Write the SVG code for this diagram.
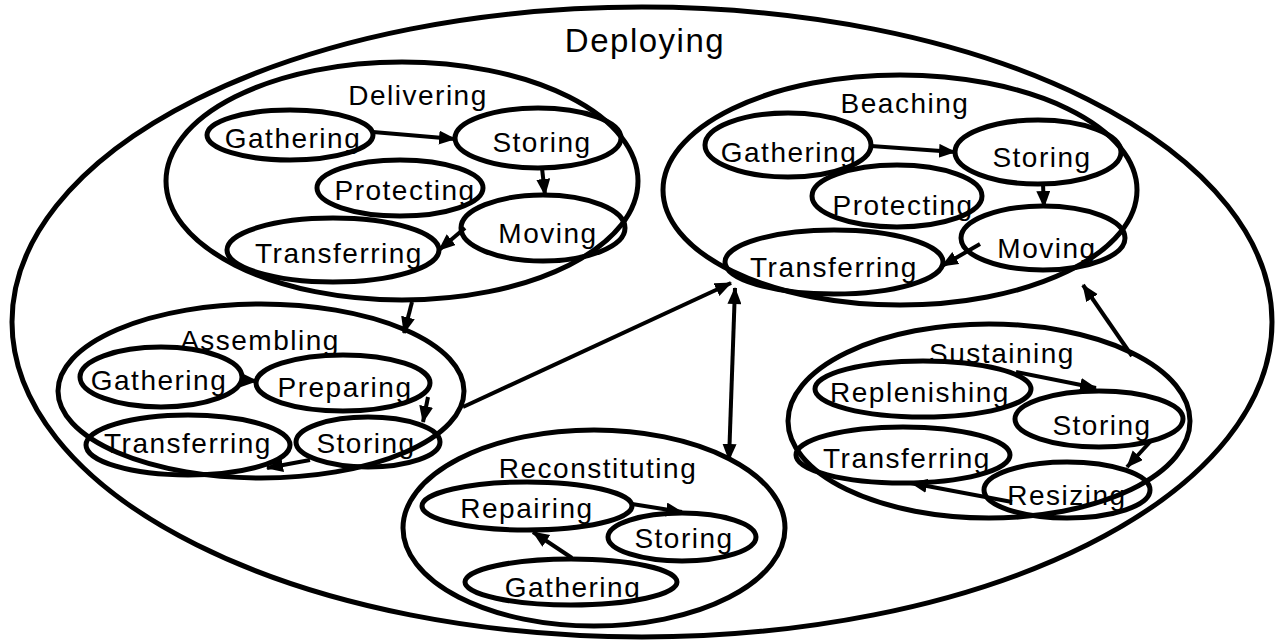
<svg xmlns="http://www.w3.org/2000/svg" width="1276" height="642" viewBox="0 0 1276 642">
<style>
.e{fill:none;stroke:#000;stroke-width:5}
.g{fill:none;stroke:#000;stroke-width:5}
.t{font-family:"Liberation Sans",Arial,sans-serif;font-size:28px;letter-spacing:1.5px;text-anchor:middle;fill:#000}
.h{font-family:"Liberation Sans",Arial,sans-serif;font-size:33px;letter-spacing:1.5px;text-anchor:middle;fill:#000}
.c{fill:none;stroke:#000;stroke-width:4}
</style>
<defs>
<marker id="ah" markerUnits="userSpaceOnUse" markerWidth="18" markerHeight="16" refX="16" refY="7" orient="auto">
<path d="M0,0 L17,7 L0,14 Z" fill="#000"/>
</marker>
<marker id="as" markerUnits="userSpaceOnUse" markerWidth="18" markerHeight="16" refX="1" refY="7" orient="auto">
<path d="M17,0 L0,7 L17,14 Z" fill="#000"/>
</marker>
</defs>
<rect width="1276" height="642" fill="#fff"/>
<g id="deploying">
<ellipse class="g" cx="642" cy="322" rx="630" ry="315"/>
<text class="h" x="645" y="52">Deploying</text>
</g>
<g id="delivering">
<ellipse class="g" cx="402" cy="181" rx="236" ry="119"/>
<text class="t" x="418" y="105">Delivering</text>
<g id="del-gathering"><ellipse class="e" cx="290" cy="135" rx="83" ry="25"/><text class="t" x="293" y="148">Gathering</text></g>
<g id="del-storing"><ellipse class="e" cx="538" cy="138" rx="83" ry="30"/><text class="t" x="542" y="152">Storing</text></g>
<g id="del-protecting"><ellipse class="e" cx="400" cy="188" rx="83" ry="28"/><text class="t" x="405" y="200">Protecting</text></g>
<g id="del-moving"><ellipse class="e" cx="543" cy="228" rx="82" ry="33"/><text class="t" x="548" y="243">Moving</text></g>
<g id="del-transferring"><ellipse class="e" cx="333" cy="250" rx="106" ry="32"/><text class="t" x="339" y="263">Transferring</text></g>
</g>
<g id="beaching">
<ellipse class="g" cx="900" cy="190" rx="237" ry="115"/>
<text class="t" x="905" y="113">Beaching</text>
<g id="bea-gathering"><ellipse class="e" cx="788" cy="145" rx="83" ry="32"/><text class="t" x="789" y="162">Gathering</text></g>
<g id="bea-storing"><ellipse class="e" cx="1038" cy="152" rx="83" ry="32"/><text class="t" x="1042" y="167">Storing</text></g>
<g id="bea-protecting"><ellipse class="e" cx="897" cy="196" rx="85" ry="31"/><text class="t" x="903" y="215">Protecting</text></g>
<g id="bea-moving"><ellipse class="e" cx="1043" cy="238" rx="82" ry="32"/><text class="t" x="1047" y="258">Moving</text></g>
<g id="bea-transferring"><ellipse class="e" cx="834" cy="262" rx="109" ry="32"/><text class="t" x="834" y="277">Transferring</text></g>
</g>
<g id="assembling">
<ellipse class="g" cx="261" cy="391" rx="203" ry="87"/>
<text class="t" x="260" y="350">Assembling</text>
<g id="asm-gathering"><ellipse class="e" cx="161" cy="377" rx="81" ry="30"/><text class="t" x="159" y="390">Gathering</text></g>
<g id="asm-preparing"><ellipse class="e" cx="343" cy="383" rx="87" ry="28"/><text class="t" x="345" y="397">Preparing</text></g>
<g id="asm-transferring"><ellipse class="e" cx="188" cy="445" rx="102" ry="30"/><text class="t" x="188" y="453">Transferring</text></g>
<g id="asm-storing"><ellipse class="e" cx="368" cy="442" rx="72" ry="25"/><text class="t" x="366" y="453">Storing</text></g>
</g>
<g id="reconstituting">
<ellipse class="g" cx="594" cy="528" rx="191" ry="98"/>
<text class="t" x="598" y="478">Reconstituting</text>
<g id="rec-repairing"><ellipse class="e" cx="527" cy="506" rx="105" ry="24"/><text class="t" x="527" y="518">Repairing</text></g>
<g id="rec-storing"><ellipse class="e" cx="682" cy="537" rx="74" ry="24"/><text class="t" x="684" y="548">Storing</text></g>
<g id="rec-gathering"><ellipse class="e" cx="571" cy="582" rx="106" ry="23"/><text class="t" x="573" y="597">Gathering</text></g>
</g>
<g id="sustaining">
<ellipse class="g" cx="989" cy="421" rx="201" ry="97"/>
<text class="t" x="1002" y="363">Sustaining</text>
<g id="sus-replenishing"><ellipse class="e" cx="923" cy="389" rx="108" ry="28"/><text class="t" x="920" y="402">Replenishing</text></g>
<g id="sus-storing"><ellipse class="e" cx="1099" cy="419" rx="84" ry="28"/><text class="t" x="1102" y="435">Storing</text></g>
<g id="sus-transferring"><ellipse class="e" cx="903" cy="455" rx="107" ry="28"/><text class="t" x="907" y="468">Transferring</text></g>
<g id="sus-resizing"><ellipse class="e" cx="1067" cy="490" rx="83" ry="28"/><text class="t" x="1067" y="505">Resizing</text></g>
</g>
<g id="connectors">
<line class="c" x1="373" y1="132" x2="455" y2="139" marker-end="url(#ah)"/>
<line class="c" x1="542" y1="168" x2="545" y2="195" marker-end="url(#ah)"/>
<line class="c" x1="465" y1="228" x2="439" y2="250" marker-end="url(#ah)"/>
<line class="c" x1="871" y1="146" x2="955" y2="152" marker-end="url(#ah)"/>
<line class="c" x1="1043" y1="184" x2="1044" y2="207" marker-end="url(#ah)"/>
<line class="c" x1="980" y1="244" x2="942" y2="266" marker-end="url(#ah)"/>
<line class="c" x1="240" y1="380" x2="257" y2="381" marker-end="url(#ah)"/>
<line class="c" x1="428" y1="397" x2="423" y2="422" marker-end="url(#ah)"/>
<line class="c" x1="310" y1="460" x2="267" y2="468" marker-end="url(#ah)"/>
<line class="c" x1="632" y1="504" x2="682" y2="512" marker-end="url(#ah)"/>
<line class="c" x1="572" y1="558" x2="533" y2="532" marker-end="url(#ah)"/>
<line class="c" x1="1016" y1="372" x2="1096" y2="388" marker-end="url(#ah)"/>
<line class="c" x1="1150" y1="442" x2="1127" y2="467" marker-end="url(#ah)"/>
<line class="c" x1="1012" y1="502" x2="911" y2="483" marker-end="url(#ah)"/>
<line class="c" x1="412" y1="302" x2="404" y2="333" marker-end="url(#ah)"/>
<line class="c" x1="463" y1="407" x2="731" y2="283" marker-end="url(#ah)"/>
<line class="c" x1="735" y1="288" x2="729" y2="460" marker-start="url(#as)" marker-end="url(#ah)"/>
<line class="c" x1="1132" y1="356" x2="1083" y2="285" marker-end="url(#ah)"/>
</g>
</svg>
